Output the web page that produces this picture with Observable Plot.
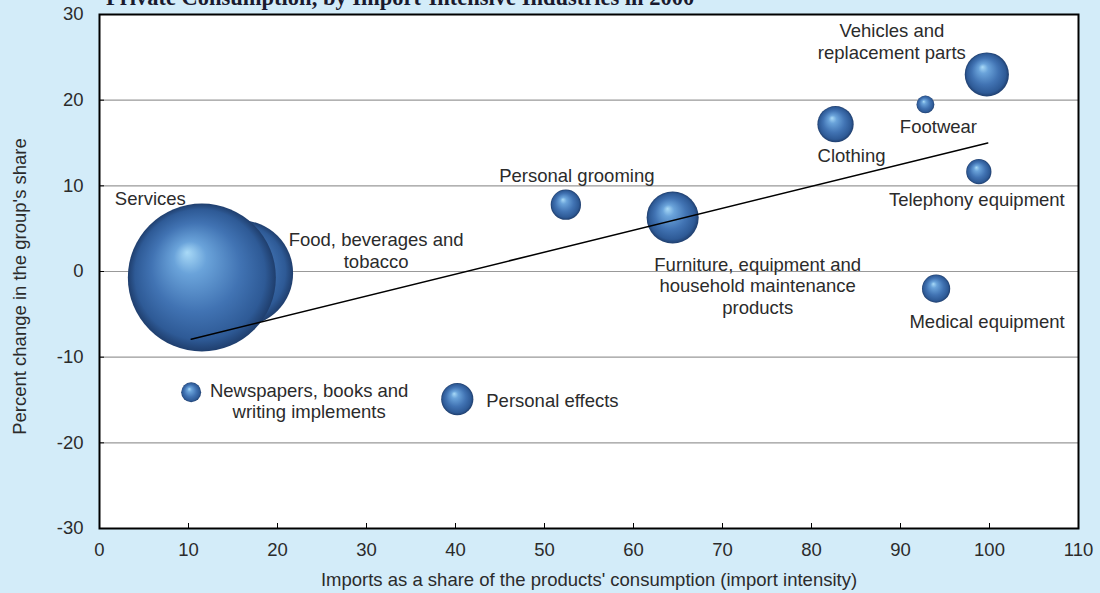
<!DOCTYPE html>
<html>
<head>
<meta charset="utf-8">
<script src="https://cdn.jsdelivr.net/npm/d3@7"></script>
<script src="https://cdn.jsdelivr.net/npm/@observablehq/plot@0.6"></script>
<style>
  html, body { margin: 0; padding: 0; background: #d3ecf9; width: 1100px; height: 593px; overflow: hidden; }
  #wrap { position: relative; width: 1100px; height: 593px; }
  #title { position: absolute; left: 106px; top: -13.5px; line-height: 1; font-family: "Liberation Serif", "Times New Roman", serif; font-weight: bold; font-size: 22.5px; color: #1a1a2e; white-space: nowrap; z-index: 2; }
  svg { font-family: "Liberation Sans", Arial, sans-serif; }
</style>
</head>
<body>
<div id="wrap">
  <div id="title">Private Consumption, by Import-Intensive Industries in 2000</div>
  <div id="chart"></div>
</div>
<script>
// Categories (Food drawn first so Services sits in front of it)
const categories = [
  "Food, beverages and\ntobacco",
  "Services",
  "Newspapers, books and\nwriting implements",
  "Personal effects",
  "Personal grooming",
  "Furniture, equipment and\nhousehold maintenance\nproducts",
  "Clothing",
  "Footwear",
  "Vehicles and\nreplacement parts",
  "Telephony equipment",
  "Medical equipment"
];
// Import intensity (x), percent change in group's share (y), bubble size (share of consumption)
const importIntensity = [15.8, 11.5, 10.3, 40.2, 52.4, 64.4, 82.7, 92.8, 99.7, 98.8, 94.0];
const shareChange     = [-0.2, -0.7, -14.1, -14.9, 7.8, 6.3, 17.2, 19.5, 23.0, 11.65, -2.0];
const bubbleSize      = [28.2, 55, 1.0, 2.6, 2.3, 6.8, 3.3, 0.8, 4.9, 1.6, 2.0];
// Trend line endpoints
const trendX = [10.3, 99.8];
const trendY = [-7.9, 15.0];
// Axis ticks
const xTicks = [0, 10, 20, 30, 40, 50, 60, 70, 80, 90, 100, 110];
const yTicks = [-30, -20, -10, 0, 10, 20, 30];
const gridY = [-20, -10, 0, 10, 20];
const xLabel = "Imports as a share of the products' consumption (import intensity)";
const yLabel = "Percent change in the group's share";

// Label layout (pixel offsets from bubble centre)
const labelLayout = [
  {dx: 136, dy: -23, anchor: "middle"},
  {dx: -87, dy: -79, anchor: "start"},
  {dx: 118, dy: 8.5, anchor: "middle"},
  {dx: 29, dy: 1, anchor: "start"},
  {dx: 11, dy: -30, anchor: "middle"},
  {dx: 85, dy: 68, anchor: "middle"},
  {dx: 16, dy: 31, anchor: "middle"},
  {dx: 13, dy: 22, anchor: "middle"},
  {dx: -95, dy: -33.5, anchor: "middle"},
  {dx: -2, dy: 27, anchor: "middle"},
  {dx: 51, dy: 32, anchor: "middle"}
];

const data = categories.map((c, i) => ({
  name: c, x: importIntensity[i], y: shareChange[i], size: bubbleSize[i]
}));
const trend = trendX.map((x, i) => ({x, y: trendY[i]}));

const labelMarks = data.map((d, i) => Plot.text([d], {
  x: "x", y: "y", text: "name",
  dx: labelLayout[i].dx, dy: labelLayout[i].dy,
  textAnchor: labelLayout[i].anchor,
  lineAnchor: "middle", lineHeight: 1.16,
  fontSize: 18.5, fill: "#2b2b2b"
}));

const chart = Plot.plot({
  width: 1100,
  height: 593,
  marginTop: 14,
  marginRight: 22,
  marginBottom: 65,
  marginLeft: 99,
  style: {background: "transparent", fontSize: "18.5px", color: "#2b2b2b"},
  x: {domain: [0, 110]},
  y: {domain: [-30, 30]},
  r: {type: "sqrt", domain: [0, 55], range: [0, 74]},
  marks: [
    Plot.frame({fill: "white"}),
    Plot.ruleY(gridY, {stroke: "#999", strokeWidth: 1.2}),
    Plot.axisX(xTicks, {tickSize: -5, tickPadding: 19, stroke: "#000", fontSize: 18.5,
      tickFormat: d => String(d),
      label: xLabel, labelAnchor: "center", labelOffset: 57, labelArrow: "none"}),
    Plot.axisY(yTicks, {tickSize: -5, tickPadding: 21, stroke: "#000", fontSize: 18.5,
      tickFormat: d => String(d), label: null}),
    Plot.text([yLabel], {frameAnchor: "left", text: d => d, rotate: -90,
      dx: -79, dy: 15, fontSize: 18.5, fill: "#2b2b2b", lineAnchor: "middle", textAnchor: "middle"}),
    Plot.dot(data, {x: "x", y: "y", r: "size", fill: "url(#sphere)", stroke: "none", sort: null}),
    Plot.line(trend, {x: "x", y: "y", stroke: "#000", strokeWidth: 1.5}),
    ...labelMarks,
    Plot.frame({stroke: "#000", strokeWidth: 2})
  ]
});

// sphere gradient
const ns = "http://www.w3.org/2000/svg";
const defs = document.createElementNS(ns, "defs");
defs.innerHTML = `
  <radialGradient id="sphere" cx="0.5" cy="0.5" r="0.5" fx="0.4" fy="0.33">
    <stop offset="0" stop-color="#a9daf7"/>
    <stop offset="0.22" stop-color="#6aa3da"/>
    <stop offset="0.6" stop-color="#4173b3"/>
    <stop offset="0.88" stop-color="#2e5a96"/>
    <stop offset="1" stop-color="#1f3e6d"/>
  </radialGradient>`;
chart.insertBefore(defs, chart.firstChild);
document.getElementById("chart").appendChild(chart);
</script>
</body>
</html>
